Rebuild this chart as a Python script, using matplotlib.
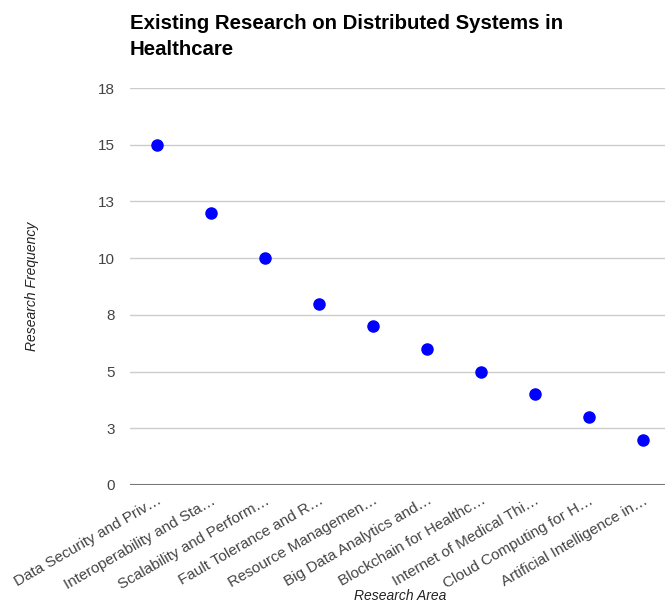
import matplotlib.pyplot as plt

plt.rcParams['font.family'] = ['Liberation Sans', 'DejaVu Sans']

# research areas (truncated the way the axis shows them) and their frequencies
areas = [
    'Data Security and Priv\u2026',
    'Interoperability and Sta\u2026',
    'Scalability and Perform\u2026',
    'Fault Tolerance and R\u2026',
    'Resource Managemen\u2026',
    'Big Data Analytics and\u2026',
    'Blockchain for Healthc\u2026',
    'Internet of Medical Thi\u2026',
    'Cloud Computing for H\u2026',
    'Artificial Intelligence in\u2026',
]
frequency = [15, 12, 10, 8, 7, 6, 5, 4, 3, 2]

y_ticks = [0, 2.5, 5, 7.5, 10, 12.5, 15, 17.5]
y_tick_labels = ['0', '3', '5', '8', '10', '13', '15', '18']

fig = plt.figure(figsize=(6.65, 6.05), dpi=100)
ax = fig.add_axes([130 / 665, 120 / 605, 540 / 665, 397 / 605])

x = list(range(len(areas)))
ax.plot(x, frequency, 'o', color='#0000ff', markersize=8, zorder=3, clip_on=False)

ax.set_xlim(-0.5, len(areas) - 0.5)
ax.set_ylim(0, 17.5)
ax.set_yticks(y_ticks)
ax.set_yticklabels(y_tick_labels)
ax.set_xticks(x)
ax.set_xticklabels(areas, rotation=30, ha='right', rotation_mode='anchor')

ax.grid(axis='y', color='#cccccc', linewidth=1)
ax.axhline(0, color='#777777', linewidth=1.5, zorder=2)
for s in ax.spines.values():
    s.set_visible(False)
ax.tick_params(axis='both', length=0, labelsize=11, labelcolor='#444444')
ax.tick_params(axis='y', pad=11)
ax.tick_params(axis='x', pad=6)

ax.set_xlabel('Research Area', fontsize=10, style='italic', color='#222222', labelpad=-1.5)
ax.set_ylabel('Research Frequency', fontsize=10, style='italic', color='#222222', labelpad=42)

fig.text(130 / 665, 1 - 14 / 605,
         'Existing Research on Distributed Systems in\nHealthcare',
         fontsize=14.7, fontweight='bold', color='#000000', va='top', ha='left',
         linespacing=1.45)

fig.savefig('out.png', dpi=100)
